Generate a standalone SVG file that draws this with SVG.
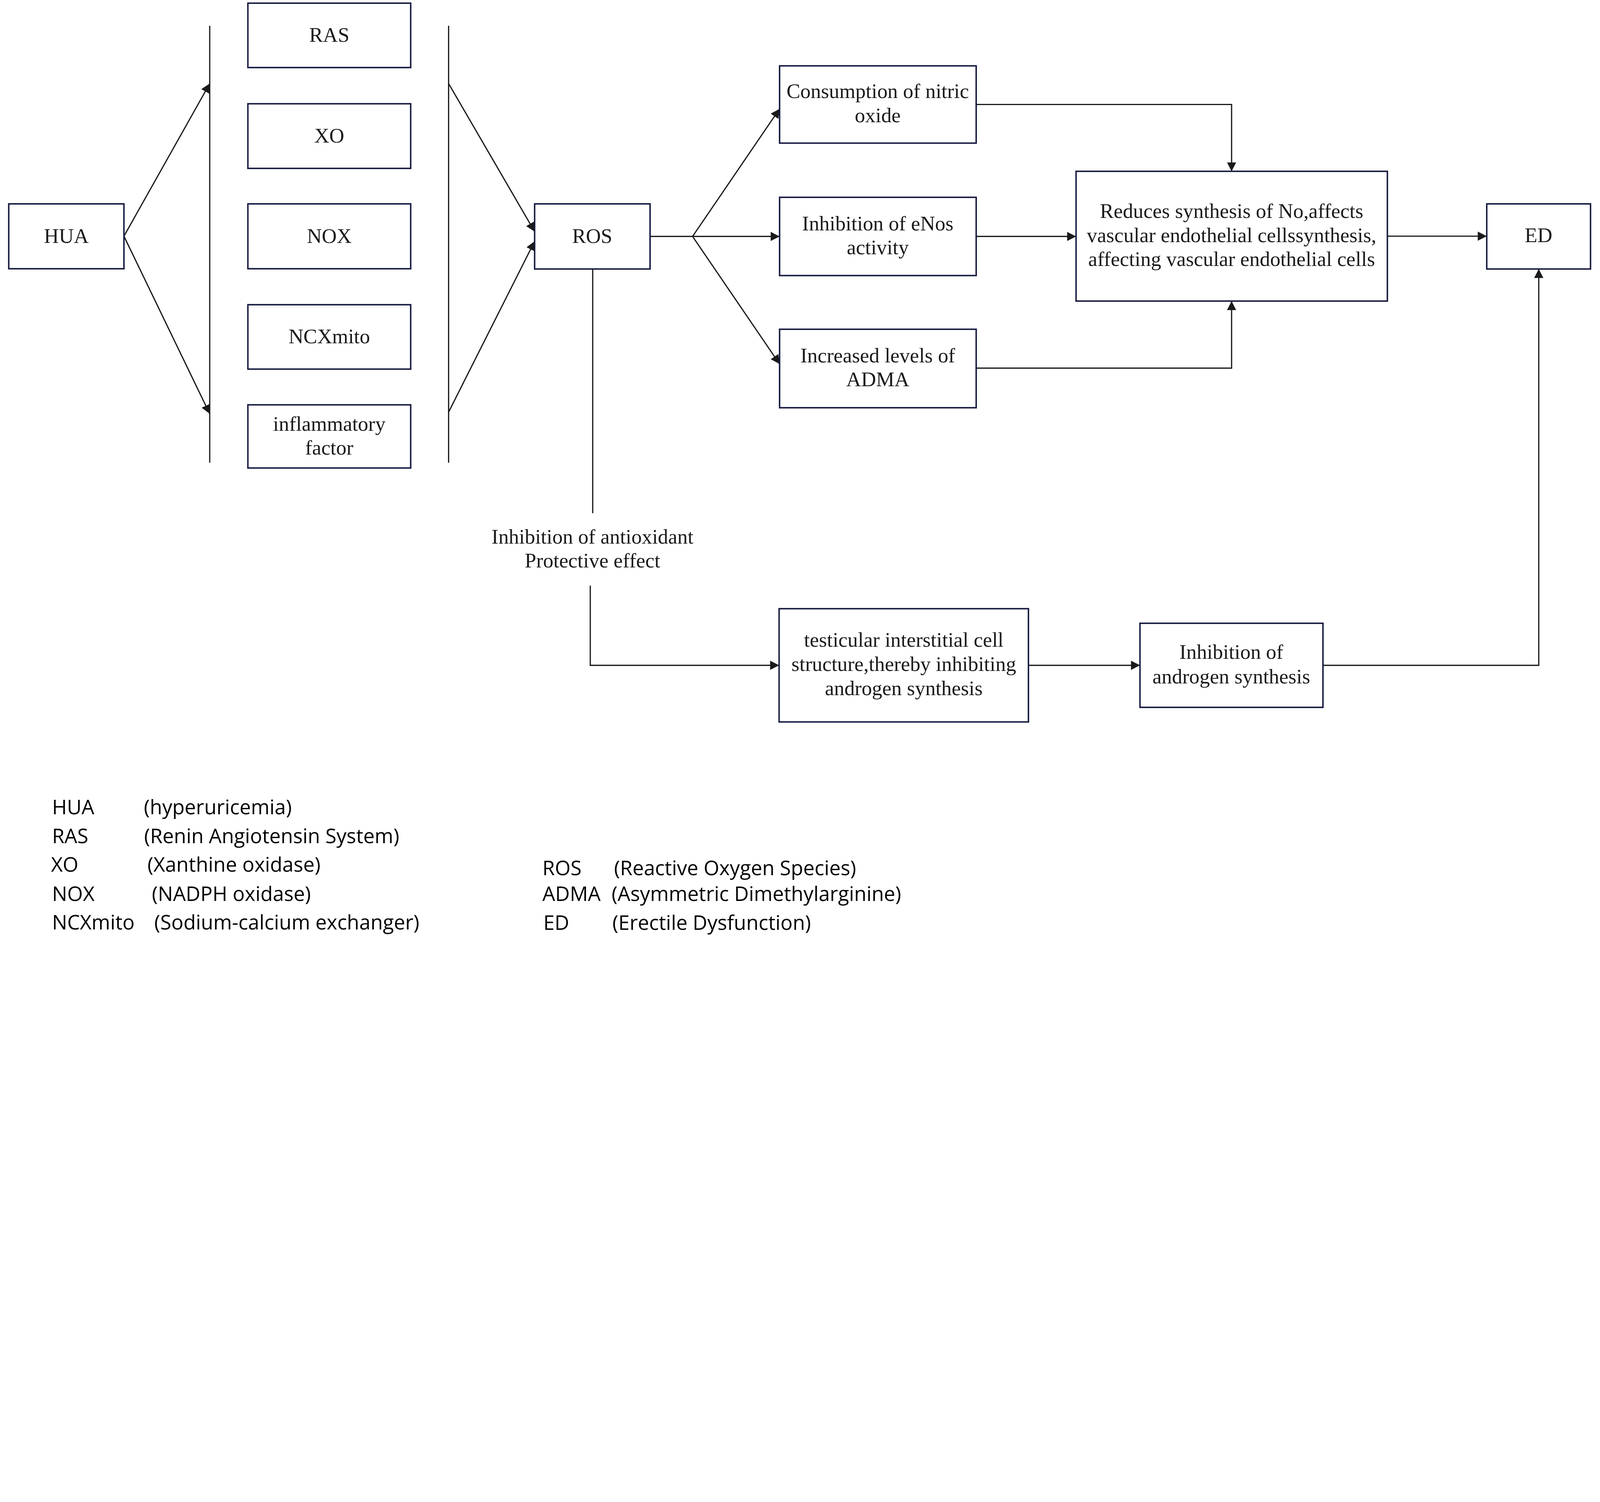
<svg xmlns="http://www.w3.org/2000/svg" width="6584" height="3846" viewBox="0 0 6584 3846" style="max-width:100%;height:auto">
<style>
.box{fill:#ffffff;stroke:#15193f;stroke-width:6}
.t{font-family:"Liberation Serif","Times New Roman",serif;font-size:85px;fill:#1a1a1a;text-anchor:middle}
.c{fill:none;stroke:#1a1a1a;stroke-width:5}
.lg{font-family:"Open Sans","Noto Sans",sans-serif;font-size:83px;fill:#000000}
</style>
<defs>
<marker id="ah" markerUnits="userSpaceOnUse" markerWidth="38" markerHeight="38" refX="37" refY="19" orient="auto">
<path d="M0,0 L37,19 L0,38 z" fill="#1a1a1a"/>
</marker>
</defs>
<rect width="6584" height="3846" fill="#ffffff"/>

<g id="connectors">
<path class="c" d="M510,972 L863,344" marker-end="url(#ah)"/>
<path class="c" d="M510,972 L863,1703" marker-end="url(#ah)"/>
<path class="c" d="M863,106 V1904"/>
<path class="c" d="M1846,106 V1904"/>
<path class="c" d="M1846,344 L2200,953" marker-end="url(#ah)"/>
<path class="c" d="M1846,1696 L2200,993" marker-end="url(#ah)"/>
<path class="c" d="M2675,973 H3208" marker-end="url(#ah)"/>
<path class="c" d="M2850,973 L3208,448" marker-end="url(#ah)"/>
<path class="c" d="M2850,973 L3208,1498" marker-end="url(#ah)"/>
<path class="c" d="M4017,430 H5068 V705" marker-end="url(#ah)"/>
<path class="c" d="M4017,973 H4428" marker-end="url(#ah)"/>
<path class="c" d="M4017,1515 H5068 V1239" marker-end="url(#ah)"/>
<path class="c" d="M5709,972 H6118" marker-end="url(#ah)"/>
<path class="c" d="M2439,1107 V2112"/>
<path class="c" d="M2429,2410 V2738 H3206" marker-end="url(#ah)"/>
<path class="c" d="M4232,2738 H4691" marker-end="url(#ah)"/>
<path class="c" d="M5444,2738 H6332 V1107" marker-end="url(#ah)"/>
</g>

<g id="HUA"><rect class="box" x="36" y="839" width="474" height="267"/><text class="t" x="273" y="999">HUA</text></g>
<g id="RAS"><rect class="box" x="1020" y="13" width="670" height="265"/><text class="t" x="1355" y="172">RAS</text></g>
<g id="XO"><rect class="box" x="1020" y="427" width="670" height="266"/><text class="t" x="1355" y="587">XO</text></g>
<g id="NOX"><rect class="box" x="1020" y="839" width="670" height="267"/><text class="t" x="1355" y="999">NOX</text></g>
<g id="NCXmito"><rect class="box" x="1020" y="1254" width="670" height="265"/><text class="t" x="1355" y="1413">NCXmito</text></g>
<g id="inflammatory"><rect class="box" x="1020" y="1666" width="670" height="260"/><text class="t" x="1355" y="1773">inflammatory</text><text class="t" x="1355" y="1871">factor</text></g>
<g id="ROS"><rect class="box" x="2200" y="839" width="475" height="268"/><text class="t" x="2437" y="999">ROS</text></g>
<g id="consumption"><rect class="box" x="3208" y="271" width="809" height="318"/><text class="t" x="3612" y="404">Consumption of nitric</text><text class="t" x="3612" y="503">oxide</text></g>
<g id="enos"><rect class="box" x="3208" y="812" width="809" height="322"/><text class="t" x="3612" y="948">Inhibition of eNos</text><text class="t" x="3612" y="1047">activity</text></g>
<g id="adma"><rect class="box" x="3208" y="1355" width="809" height="323"/><text class="t" x="3612" y="1492">Increased levels of</text><text class="t" x="3612" y="1590">ADMA</text></g>
<g id="reduces"><rect class="box" x="4428" y="705" width="1281" height="534"/><text class="t" x="5068" y="897">Reduces synthesis of No,affects</text><text class="t" x="5068" y="996">vascular endothelial cellssynthesis,</text><text class="t" x="5068" y="1094">affecting vascular endothelial cells</text></g>
<g id="ED"><rect class="box" x="6118" y="839" width="427" height="268"/><text class="t" x="6331" y="997">ED</text></g>
<g id="antioxidant-label"><text class="t" x="2438" y="2237">Inhibition of antioxidant</text><text class="t" x="2438" y="2336">Protective effect</text></g>
<g id="testicular"><rect class="box" x="3206" y="2505" width="1026" height="466"/><text class="t" x="3719" y="2661">testicular interstitial cell</text><text class="t" x="3719" y="2761">structure,thereby inhibiting</text><text class="t" x="3719" y="2860">androgen synthesis</text></g>
<g id="androgen"><rect class="box" x="4691" y="2565" width="753" height="346"/><text class="t" x="5067" y="2712">Inhibition of</text><text class="t" x="5067" y="2812">androgen synthesis</text></g>

<g id="legend">
<text class="lg" x="214" y="3351">HUA<tspan x="592">(hyperuricemia)</tspan></text>
<text class="lg" x="214" y="3470">RAS<tspan x="593">(Renin Angiotensin System)</tspan></text>
<text class="lg" x="210" y="3588">XO<tspan x="607">(Xanthine oxidase)</tspan></text>
<text class="lg" x="214" y="3707">NOX<tspan x="625">(NADPH oxidase)</tspan></text>
<text class="lg" x="214" y="3825">NCXmito<tspan x="635">(Sodium-calcium exchanger)</tspan></text>
<text class="lg" x="2232" y="3601">ROS<tspan x="2527">(Reactive Oxygen Species)</tspan></text>
<text class="lg" x="2232" y="3708">ADMA<tspan x="2517">(Asymmetric Dimethylarginine)</tspan></text>
<text class="lg" x="2236" y="3827">ED<tspan x="2520">(Erectile Dysfunction)</tspan></text>
</g>
</svg>
